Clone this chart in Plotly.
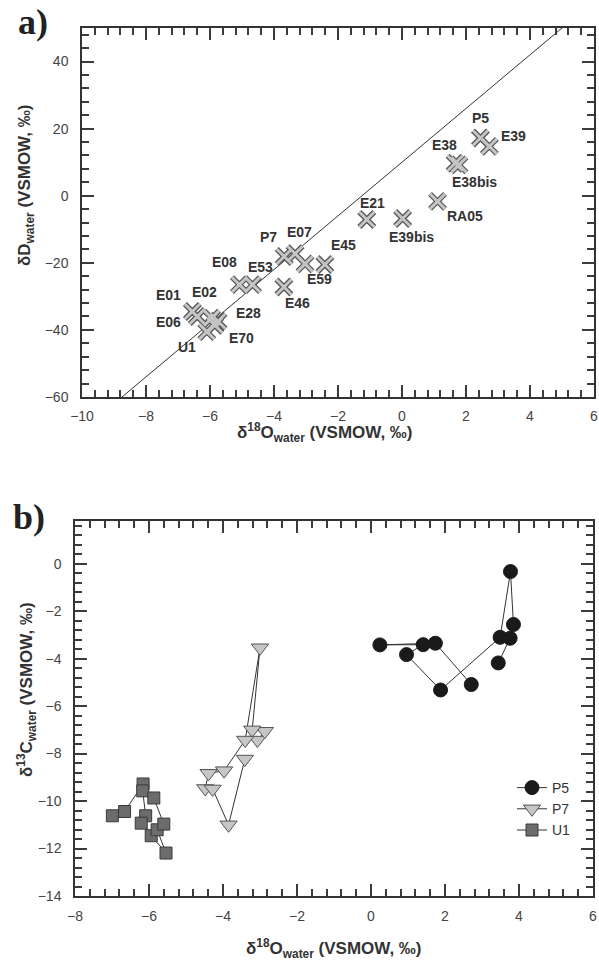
import plotly.graph_objects as go

# ---------------- Panel a data ----------------
a_labels = ["P5", "E39", "E38", "E38bis", "RA05", "E21", "E39bis", "E07", "P7", "E59",
            "E45", "E08", "E53", "E46", "E01", "E06", "E02", "E28", "E70", "U1"]
a_d18o = [2.45, 2.73, 1.66, 1.78, 1.11, -1.10, 0.02, -3.34, -3.68, -3.03,
          -2.41, -5.08, -4.67, -3.69, -6.55, -6.40, -5.95, -5.75, -5.85, -6.10]
a_dD = [17.2, 14.7, 9.7, 9.2, -1.7, -7.1, -6.8, -17.3, -18.1, -20.3,
        -20.5, -26.5, -26.5, -27.2, -34.5, -36.0, -36.5, -37.4, -38.6, -40.5]
# label offsets (pixels) relative to each point
a_lab_dx = [0, 24, -11, 16, 27, 6, 9, 4, -16, 14, 19, -15, 8, 14, -24, -29, -7, 30, 27, -20]
a_lab_dy = [20, 10, 18, -17, -15, 17, -18, 22, 19, -15, 20, 23, 18, -16, 16, -6, 26, 8, -13, -15]

# Global meteoric water line dD = 8 d18O + 10
gmwl_x = [-10, 6]
gmwl_slope = 8
gmwl_int = 10

# ---------------- Panel b data ----------------
p5_d18o = [2.71, 1.74, 0.24, 1.41, 0.96, 1.88, 3.49, 3.77, 3.85, 3.76, 3.44]
p5_d13c = [-5.09, -3.35, -3.42, -3.41, -3.83, -5.32, -3.10, -0.33, -2.56, -3.14, -4.18]

p7_d18o = [-3.07, -2.87, -3.21, -3.00, -3.40, -3.97, -4.39, -4.48, -4.28, -3.85, -3.41]
p7_d13c = [-7.43, -7.06, -7.00, -3.54, -7.43, -8.72, -8.83, -9.47, -9.49, -11.00, -8.23]

u1_d18o = [-6.99, -6.66, -6.16, -6.17, -6.09, -6.21, -5.94, -5.54, -5.78, -5.60, -5.87]
u1_d13c = [-10.62, -10.44, -9.28, -9.57, -10.62, -10.93, -11.46, -12.19, -11.21, -10.97, -9.87]

fig = go.Figure()

fig.add_trace(go.Scatter(
    x=gmwl_x, y=[gmwl_slope * v + gmwl_int for v in gmwl_x], mode="lines",
    line=dict(color="#333333", width=1), showlegend=False, hoverinfo="skip",
    xaxis="x", yaxis="y"))

fig.add_trace(go.Scatter(
    x=a_d18o, y=a_dD, mode="markers",
    marker=dict(symbol="x-thin", size=15, line=dict(color="#555555", width=5.5)),
    showlegend=False, xaxis="x", yaxis="y"))
fig.add_trace(go.Scatter(
    x=a_d18o, y=a_dD, mode="markers",
    marker=dict(symbol="x-thin", size=15, line=dict(color="#c4c4c4", width=3)),
    showlegend=False, xaxis="x", yaxis="y"))

for lab, xv, yv, dx, dy in zip(a_labels, a_d18o, a_dD, a_lab_dx, a_lab_dy):
    fig.add_annotation(x=xv, y=yv, xref="x", yref="y", text="<b>%s</b>" % lab,
                       showarrow=False, xshift=dx, yshift=dy,
                       font=dict(family="Liberation Sans, Arial", size=14, color="#333333"))

fig.add_trace(go.Scatter(
    x=p5_d18o, y=p5_d13c, mode="lines+markers", name="P5",
    line=dict(color="#333333", width=1),
    marker=dict(symbol="circle", size=14, color="#1a1a1a", line=dict(color="#1a1a1a", width=1)),
    xaxis="x2", yaxis="y2"))
fig.add_trace(go.Scatter(
    x=p7_d18o, y=p7_d13c, mode="lines+markers", name="P7",
    line=dict(color="#333333", width=1),
    marker=dict(symbol="triangle-down", size=15, color="#c6c6c6", line=dict(color="#555555", width=1)),
    xaxis="x2", yaxis="y2"))
fig.add_trace(go.Scatter(
    x=u1_d18o, y=u1_d13c, mode="lines+markers", name="U1",
    line=dict(color="#333333", width=1),
    marker=dict(symbol="square", size=12, color="#6c6c6c", line=dict(color="#3a3a3a", width=1)),
    xaxis="x2", yaxis="y2"))

W, H = 599, 964
LC = "#333333"
tickfont = dict(family="Liberation Sans, Arial", size=14, color="#444444")
axis_common = dict(
    showgrid=False, zeroline=False, showline=True, linecolor=LC, linewidth=1.5,
    mirror="allticks", ticks="inside", ticklen=12, tickcolor="#3c3c3c", tickwidth=1.5,
    tickfont=tickfont, automargin=False,
)


def minor(dt):
    return dict(dtick=dt, tick0=0, ticks="inside", ticklen=7, tickcolor="#3c3c3c", tickwidth=1.5)


xa_dom = [82 / W, 594 / W]
ya_dom = [1 - 397 / H, 1 - 28 / H]
xb_dom = [75 / W, 593 / W]
yb_dom = [1 - 896 / H, 1 - 521 / H]

fig.update_layout(
    width=W, height=H, margin=dict(l=0, r=0, t=0, b=0, autoexpand=False),
    paper_bgcolor="white", plot_bgcolor="white",
    xaxis=dict(domain=xa_dom, range=[-10, 6], dtick=2, tick0=0, minor=minor(0.4),
               anchor="y", ticklabelstandoff=5, **axis_common),
    yaxis=dict(domain=ya_dom, range=[-60, 50], dtick=20, tick0=0, minor=minor(4),
               anchor="x", ticklabelstandoff=9, **axis_common),
    xaxis2=dict(domain=xb_dom, range=[-8, 6], dtick=2, tick0=0, minor=minor(0.4),
                anchor="y2", ticklabelstandoff=6, **axis_common),
    yaxis2=dict(domain=yb_dom, range=[-14, 1.8], dtick=2, tick0=0, minor=minor(0.4),
                anchor="x2", ticklabelstandoff=9, **axis_common),
    legend=dict(x=512 / W, y=1 - 772 / H, xanchor="left", yanchor="top",
                bgcolor="rgba(0,0,0,0)", font=dict(family="Liberation Sans, Arial", size=14, color="#333333"),
                itemwidth=30, tracegroupgap=0),
    showlegend=True,
)

title_font = dict(family="Liberation Sans, Arial", size=17, color="#333333")
ann_common = dict(xref="paper", yref="paper", showarrow=False, xanchor="center", yanchor="middle")
fig.add_annotation(x=325 / W, y=1 - 433 / H, text="<b>δ<sup>18</sup>O<sub>water</sub> (VSMOW, ‰)</b>",
                   font=title_font, **ann_common)
fig.add_annotation(x=334 / W, y=1 - 948 / H, text="<b>δ<sup>18</sup>O<sub>water</sub> (VSMOW, ‰)</b>",
                   font=title_font, **ann_common)
fig.add_annotation(x=26 / W, y=1 - 186 / H, textangle=-90,
                   text="<b>δD<sub>water</sub> (VSMOW, ‰)</b>", font=title_font, **ann_common)
fig.add_annotation(x=26 / W, y=1 - 690 / H, textangle=-90,
                   text="<b>δ<sup>13</sup>C<sub>water</sub> (VSMOW, ‰)</b>", font=title_font, **ann_common)
panel_font = dict(family="Liberation Serif, Times New Roman", size=36, color="#222222")
fig.add_annotation(x=33 / W, y=1 - 22 / H, text="<b>a)</b>", font=panel_font, **ann_common)
fig.add_annotation(x=29 / W, y=1 - 517 / H, text="<b>b)</b>", font=panel_font, **ann_common)

fig.write_html("out.html")
